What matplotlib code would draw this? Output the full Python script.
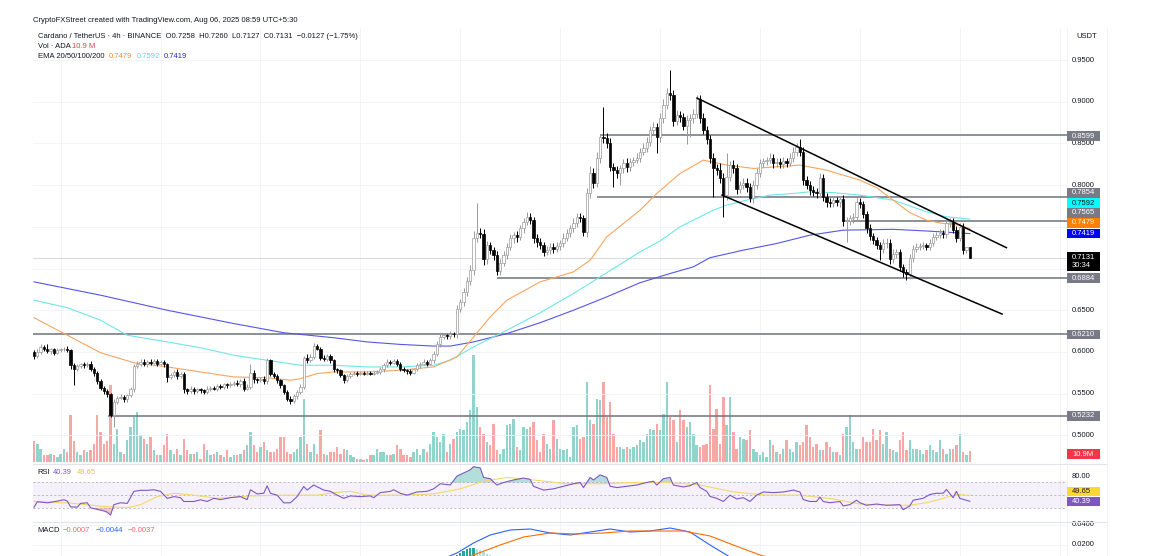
import numpy as np
import matplotlib.pyplot as plt
from matplotlib.lines import Line2D
from matplotlib.patches import Rectangle

plt.rcParams['font.family'] = ['Liberation Sans', 'DejaVu Sans']

# ---- data (ADA/USDT 4h) ----
open0 = 0.600
closes = [
    0.595, 0.600, 0.606, 0.604, 0.601, 0.603, 0.599, 0.602, 0.603, 0.604,
    0.602, 0.584, 0.580, 0.583, 0.585, 0.584, 0.586, 0.580, 0.575, 0.565,
    0.557, 0.553, 0.549, 0.524, 0.540, 0.545, 0.546, 0.543, 0.548, 0.555,
    0.583, 0.586, 0.588, 0.585, 0.588, 0.587, 0.589, 0.586, 0.588, 0.585,
    0.570, 0.572, 0.576, 0.571, 0.574, 0.555, 0.553, 0.556, 0.553, 0.555,
    0.554, 0.552, 0.556, 0.557, 0.556, 0.559, 0.558, 0.561, 0.560, 0.562,
    0.563, 0.561, 0.565, 0.556, 0.558, 0.575, 0.567, 0.566, 0.568, 0.565,
    0.590, 0.574, 0.571, 0.566, 0.560, 0.552, 0.544, 0.541, 0.547, 0.552,
    0.558, 0.593, 0.590, 0.594, 0.607, 0.604, 0.593, 0.592, 0.595, 0.590,
    0.579, 0.578, 0.572, 0.566, 0.571, 0.574, 0.575, 0.574, 0.575, 0.574,
    0.575, 0.574, 0.575, 0.576, 0.579, 0.584, 0.588, 0.587, 0.589, 0.586,
    0.580, 0.578, 0.577, 0.575, 0.579, 0.584, 0.586, 0.588, 0.586, 0.590,
    0.598, 0.610, 0.618, 0.620, 0.619, 0.622, 0.621, 0.652, 0.660, 0.672,
    0.685, 0.698, 0.737, 0.743, 0.741, 0.712, 0.728, 0.722, 0.716, 0.697,
    0.707, 0.716, 0.726, 0.736, 0.740, 0.738, 0.748, 0.756, 0.762, 0.758,
    0.736, 0.732, 0.728, 0.720, 0.722, 0.726, 0.724, 0.727, 0.730, 0.737,
    0.743, 0.748, 0.755, 0.762, 0.760, 0.744, 0.790, 0.815, 0.803, 0.832,
    0.858, 0.856, 0.850, 0.822, 0.818, 0.815, 0.820, 0.826, 0.822, 0.828,
    0.830, 0.833, 0.840, 0.845, 0.852, 0.866, 0.870, 0.858, 0.880, 0.896,
    0.910, 0.908, 0.877, 0.884, 0.882, 0.871, 0.878, 0.880, 0.885, 0.903,
    0.881, 0.866, 0.855, 0.833, 0.820, 0.818, 0.808, 0.788, 0.810, 0.824,
    0.820, 0.795, 0.800, 0.803, 0.798, 0.785, 0.800, 0.815, 0.826, 0.829,
    0.830, 0.833, 0.826, 0.828, 0.825, 0.829, 0.827, 0.833, 0.840, 0.846,
    0.840, 0.806, 0.800, 0.794, 0.792, 0.790, 0.808, 0.786, 0.780, 0.779,
    0.782, 0.780, 0.783, 0.757, 0.757, 0.760, 0.762, 0.780, 0.777, 0.765,
    0.748, 0.739, 0.734, 0.728, 0.724, 0.730, 0.731, 0.712, 0.718, 0.720,
    0.702, 0.696, 0.694, 0.713, 0.724, 0.726, 0.727, 0.728, 0.726, 0.731,
    0.738, 0.740, 0.742, 0.741, 0.754, 0.756, 0.746, 0.737, 0.750, 0.722,
    0.7258, 0.7131,
]
# wick lengths above / below the body, in thousandths
wick_up = [
    2, 3, 4, 2, 5, 2, 2, 3, 2, 2,  3, 2, 3, 2, 2, 3, 2, 3, 2, 2,
    2, 2, 3, 2, 3, 2, 3, 2, 2, 3,  3, 3, 4, 3, 2, 3, 2, 3, 2, 2,
    2, 3, 2, 3, 2, 2, 2, 3, 2, 2,  2, 2, 3, 2, 2, 2, 3, 2, 2, 2,
    2, 3, 3, 4, 3, 10, 3, 2, 2, 3,  3, 2, 2, 3, 2, 2, 2, 3, 2, 2,
    3, 2, 4, 3, 4, 3, 2, 3, 2, 2,  2, 2, 2, 2, 3, 2, 2, 2, 2, 2,
    2, 2, 2, 2, 3, 3, 3, 2, 3, 2,  2, 2, 2, 2, 2, 3, 2, 3, 2, 3,
    3, 3, 4, 3, 2, 3, 2, 4, 4, 5,  5, 6, 8, 36, 6, 6, 5, 4, 4, 5,
    4, 5, 4, 5, 4, 5, 4, 5, 6, 5,  4, 5, 4, 4, 5, 4, 4, 5, 4, 5,
    4, 4, 5, 4, 5, 4, 6, 8, 6, 8,  3, 36, 6, 6, 5, 5, 4, 5, 6, 5,
    4, 5, 4, 5, 6, 5, 6, 5, 6, 7,  6, 28, 6, 6, 5, 5, 6, 5, 6, 5,
    5, 6, 5, 5, 6, 5, 8, 6, 28, 5,  6, 5, 5, 6, 5, 5, 6, 5, 5, 4,
    4, 5, 4, 5, 4, 5, 4, 5, 6, 5,  9, 6, 5, 5, 5, 4, 6, 5, 4, 4,
    5, 4, 4, 5, 5, 4, 4, 6, 4, 4,  4, 5, 4, 4, 4, 5, 5, 4, 5, 4,
    4, 4, 4, 5, 4, 4, 3, 4, 3, 4,  4, 4, 5, 4, 5, 5, 4, 5, 4, 5,
    0.2, 0,
]
wick_lo = [
    3, 2, 2, 3, 2, 3, 3, 2, 2, 2,  2, 4, 20, 3, 2, 3, 2, 3, 4, 3,
    3, 4, 3, 2, 14, 3, 2, 3, 3, 2,  3, 2, 3, 2, 3, 3, 2, 3, 2, 3,
    6, 3, 2, 3, 2, 4, 3, 2, 3, 2,  3, 2, 2, 3, 2, 3, 2, 2, 3, 2,
    3, 2, 3, 3, 2, 3, 4, 3, 2, 3,  3, 3, 2, 3, 3, 2, 3, 3, 2, 3,
    3, 3, 3, 2, 3, 2, 3, 3, 3, 3,  3, 3, 2, 3, 2, 2, 2, 3, 2, 2,
    2, 2, 2, 2, 2, 3, 2, 3, 2, 3,  3, 2, 3, 3, 2, 2, 3, 2, 3, 2,
    3, 3, 4, 3, 4, 3, 3, 4, 4, 5,  5, 5, 6, 5, 5, 8, 6, 5, 6, 5,
    5, 4, 5, 4, 5, 6, 4, 5, 4, 5,  5, 6, 5, 5, 4, 5, 5, 4, 5, 4,
    4, 5, 4, 5, 4, 5, 6, 5, 6, 5,  6, 5, 6, 5, 20, 6, 15, 5, 6, 5,
    5, 4, 5, 4, 5, 5, 6, 20, 6, 5,  5, 6, 6, 5, 6, 5, 22, 20, 6, 5,
    6, 5, 6, 7, 34, 6, 6, 26, 6, 5,  5, 6, 5, 5, 6, 5, 6, 5, 5, 4,
    5, 4, 5, 4, 5, 4, 5, 4, 5, 5,  5, 6, 5, 6, 5, 5, 6, 5, 6, 5,
    5, 5, 6, 6, 25, 5, 6, 5, 5, 5,  5, 5, 5, 5, 14, 5, 5, 6, 5, 5,
    5, 6, 8, 7, 5, 4, 4, 4, 4, 4,  4, 4, 4, 4, 5, 4, 4, 5, 4, 5,
    3, 0.4,
]
volume_m = [
    21, 18, 13, 7, 7, 8, 7, 5, 8, 13,  10, 47, 21, 10, 7, 12, 10, 12, 18, 47,
    30, 18, 21, 77, 18, 33, 10, 8, 22, 35,  45, 50, 27, 23, 18, 25, 12, 7, 7, 17,
    28, 12, 8, 13, 7, 23, 12, 8, 8, 10,  3, 18, 12, 7, 8, 10, 7, 5, 12, 5,
    7, 7, 8, 12, 17, 30, 17, 10, 15, 20,  12, 10, 10, 13, 25, 25, 10, 8, 10, 13,
    25, 63, 18, 10, 18, 8, 32, 8, 7, 10,  10, 15, 8, 13, 12, 7, 5, 3, 3, 2,
    3, 7, 7, 13, 10, 10, 7, 7, 8, 17,  13, 7, 7, 5, 10, 13, 7, 13, 10, 18,
    30, 25, 20, 28, 10, 18, 23, 30, 33, 32,  40, 52, 107, 55, 35, 28, 20, 17, 38, 12,
    8, 13, 37, 38, 43, 15, 12, 35, 33, 35,  40, 22, 10, 28, 18, 13, 42, 23, 13, 12,
    13, 5, 35, 37, 23, 25, 80, 42, 38, 63,  62, 80, 45, 60, 28, 15, 15, 13, 15, 13,
    15, 17, 22, 20, 28, 33, 32, 38, 32, 48,  80, 45, 42, 20, 52, 42, 35, 40, 28, 17,
    15, 17, 18, 77, 33, 53, 18, 65, 37, 65,  30, 13, 25, 23, 22, 32, 13, 10, 7, 10,
    5, 22, 17, 10, 8, 13, 22, 13, 10, 20,  17, 20, 37, 25, 15, 18, 12, 12, 20, 15,
    10, 10, 7, 28, 35, 47, 20, 13, 13, 25,  20, 20, 33, 22, 32, 18, 30, 13, 12, 10,
    22, 30, 12, 22, 13, 13, 12, 8, 12, 17,  12, 10, 22, 13, 8, 13, 13, 17, 28, 10,
    7, 10.9,
]

# EMA lines, sampled at candle indices
ema20_idx = [0, 10, 20, 30, 40, 50, 60, 70, 77, 80, 85, 90, 100, 110, 120, 127, 132, 137,
             142, 152, 162, 167, 172, 177, 182, 187, 194, 201, 208, 216, 223, 230, 238,
             248, 253, 258, 263, 268, 273, 278, 281]
ema20 = [0.641, 0.620, 0.599, 0.587, 0.582, 0.576, 0.570, 0.569, 0.566, 0.568, 0.574,
         0.576, 0.576, 0.578, 0.582, 0.594, 0.618, 0.642, 0.662, 0.684, 0.696, 0.710,
         0.738, 0.754, 0.770, 0.790, 0.814, 0.830, 0.824, 0.820, 0.822, 0.824, 0.818,
         0.806, 0.797, 0.782, 0.767, 0.758, 0.754, 0.752, 0.7479]
ema50_idx = [0, 10, 20, 28, 40, 50, 60, 70, 80, 90, 100, 110, 120, 125, 132, 142, 152,
             162, 172, 182, 188, 194, 200, 204, 208, 214, 221, 228, 233, 240, 248, 258,
             268, 274, 281]
ema50 = [0.662, 0.653, 0.638, 0.620, 0.612, 0.605, 0.596, 0.590, 0.584, 0.584, 0.582,
         0.582, 0.584, 0.590, 0.606, 0.626, 0.647, 0.670, 0.695, 0.720, 0.733, 0.750,
         0.762, 0.770, 0.776, 0.782, 0.788, 0.790, 0.792, 0.791, 0.788, 0.782, 0.768,
         0.762, 0.7592]
ema200_idx = [0, 20, 40, 60, 75, 90, 100, 110, 120, 125, 132, 142, 152, 162, 172, 182,
              191, 198, 203, 213, 223, 233, 243, 258, 268, 281]
ema200 = [0.684, 0.668, 0.650, 0.634, 0.623, 0.617, 0.612, 0.609, 0.607, 0.607, 0.612,
          0.622, 0.635, 0.650, 0.666, 0.683, 0.694, 0.702, 0.713, 0.722, 0.730, 0.740,
          0.746, 0.747, 0.745, 0.7419]

# horizontal levels: price, first candle index
levels = [0.8599, 0.7854, 0.7565, 0.6884, 0.6210, 0.5232]
level_start = [170, 169, 242.6, 139, -0.3, 22.2]
# channel lines: (index, price) end points
chan_upper = ([199.1, 292.0], [0.9044, 0.7250])
chan_lower = ([206.6, 290.7], [0.7880, 0.6454])

# RSI and its moving average
rsi_idx = [0, 1, 4, 6, 7, 9, 10, 11, 13, 14, 16, 17, 19, 21, 22, 23, 24, 26, 28, 30,
           32, 34, 36, 38, 40, 42, 44, 45, 48, 50, 52, 54, 56, 59, 62, 64, 65, 67, 69,
           70, 71, 73, 75, 77, 79, 81, 82, 84, 87, 89, 91, 93, 95, 98, 101, 102, 104,
           107, 108, 110, 112, 115, 118, 120, 122, 125, 127, 129, 131, 132, 134, 135,
           137, 139, 141, 144, 147, 149, 150, 153, 156, 159, 162, 164, 165, 167, 168,
           170, 172, 173, 175, 178, 181, 184, 186, 187, 189, 191, 192, 195, 197, 199,
           200, 202, 203, 205, 207, 209, 211, 213, 215, 217, 219, 222, 225, 228, 230,
           231, 233, 235, 236, 237, 239, 242, 243, 245, 247, 248, 250, 253, 256, 260,
           261, 263, 264, 267, 269, 271, 273, 274, 276, 277, 278, 280, 281]
rsi = [31, 39.6, 37.9, 39.6, 40.6, 42.7, 40.6, 31.5, 31, 37, 37.9, 30, 27.5, 25, 23,
       18.5, 35, 38, 37, 56, 57.6, 57.6, 58.5, 56, 44.9, 47.7, 46, 40, 40, 42.7, 40, 45,
       43, 46, 47.7, 43, 58.5, 52, 53, 64.7, 53, 50, 37.9, 37.9, 47.7, 63.7, 58, 66,
       58, 56, 50, 45, 48.8, 47.7, 48.8, 46, 54, 56, 58.5, 53, 50, 55, 56, 60, 68, 66,
       80, 85, 90, 95, 93, 78, 76, 66, 70, 74, 77, 75, 64, 58, 60, 64, 68, 70, 62, 78,
       74, 82, 78, 64, 62, 64, 66, 70, 72, 66, 76, 78, 66, 63, 65, 70, 62, 56, 48, 45,
       40, 50, 44, 46, 40, 50, 55, 54, 55, 58, 55, 43, 40, 40, 47, 40, 38, 40, 33, 35,
       42, 38, 34, 36, 34, 35, 27, 33, 42, 45, 51, 53, 53, 59, 46, 56, 45, 42, 40.39]
rsi_ma_idx = [0, 10, 20, 28, 32, 37, 42, 48, 55, 65, 75, 85, 90, 95, 100, 110, 120, 128,
              135, 142, 150, 160, 170, 180, 190, 200, 210, 220, 230, 240, 248, 258, 263,
              268, 273, 277, 281]
rsi_ma = [40, 37.9, 32.6, 30, 35, 47.7, 53, 50, 45, 48.8, 50, 50, 54, 56, 50, 50, 52,
          60, 72, 78, 74, 68, 68, 70, 70, 66, 55, 50, 50, 44, 36, 34, 34, 38, 45, 51,
          49.65]

# MACD (only the upper part of the pane is in frame)
macd_idx = [110, 122, 127, 132, 137, 143, 149, 155, 161, 167, 173, 179, 185, 191, 197,
            203, 209, 215]
macd = [-0.002, 0.005, 0.012, 0.022, 0.030, 0.035, 0.036, 0.032, 0.030, 0.033, 0.036,
        0.033, 0.034, 0.037, 0.033, 0.020, 0.008, 0.000]
signal_idx = [112, 125, 132, 140, 147, 155, 163, 171, 179, 187, 195, 203, 210, 218, 226]
signal = [-0.002, 0.003, 0.010, 0.020, 0.028, 0.032, 0.031, 0.032, 0.034, 0.034, 0.034,
          0.029, 0.020, 0.010, 0.003]
hist_idx = list(range(124, 147))
hist = [0.004, 0.006, 0.008, 0.010, 0.012, 0.014, 0.016, 0.017, 0.017, 0.016, 0.015,
        0.013, 0.011, 0.010, 0.009, 0.008, 0.007, 0.006, 0.005, 0.004, 0.003, 0.002, 0.001]

# ---- layout helpers (pixel boxes on a 1149x556 canvas) ----
W, H = 1149, 556
FS = 5.5


def rect(x0, y0, x1, y1):
    return [x0 / W, 1 - y1 / H, (x1 - x0) / W, (y1 - y0) / H]


def fig_text(x, y, s, **kw):
    kw.setdefault('fontsize', FS)
    kw.setdefault('color', '#131722')
    fig.text(x / W, 1 - y / H, s, va='center', ha='left', **kw)


def to_px(pane, lims, v):
    # pixel row of value v in a pane given as (top, bottom) pixel rows
    top, bot = pane
    return top + (lims[1] - v) / (lims[1] - lims[0]) * (bot - top)


def tag(pane, lims, v, s, fc, tc, dy=0.0, h=9.5):
    # label box on the price scale; dy in pixels (up is positive)
    yc = to_px(pane, lims, v) - dy
    fig.add_artist(Rectangle((1067 / W, 1 - (yc + h / 2) / H), 33 / W, h / H,
                             transform=fig.transFigure, fc=fc, ec='none', zorder=8))
    fig.text(1072 / W, 1 - yc / H, s, va='center', ha='left', fontsize=FS, color=tc,
             zorder=9, linespacing=1.1)


def tick(ax, y, s):
    ax.text(1.0048, y, s, transform=ax.get_yaxis_transform(), ha='left', va='center',
            fontsize=FS, color='#131722', zorder=5, clip_on=False)


XMIN, XMAX = -0.3, 310.2
MAIN, RSI_P, MACD_P = (28, 464), (464, 522), (522, 556)
PRICE_LIM, VOL_LIM, RSI_LIM, MACD_LIM = (0.4656, 0.9884), (-2, 434), (7.6, 99.2), (0.009, 0.043)
GRID = '#f0f2f6'
grid_x = [8, 38, 68, 98, 128, 158, 188, 218, 248, 278, 308]

fig = plt.figure(figsize=(W / 100, H / 100), dpi=100)

c = np.array(closes)
o = np.concatenate([[open0], c[:-1]])
hi = np.maximum(o, c) + np.array(wick_up) / 1000
lo = np.minimum(o, c) - np.array(wick_lo) / 1000
idx = np.arange(len(c))
up = c >= o

# ---- main pane: volume behind, candles on top ----
ax_vol = fig.add_axes(rect(33, MAIN[0], 1067, MAIN[1]))
ax = fig.add_axes(rect(33, MAIN[0], 1067, MAIN[1]), sharex=ax_vol)
ax.patch.set_visible(False)
ax_vol.axis('off')
ax.axis('off')
ax.set_xlim(XMIN, XMAX)
ax.set_ylim(*PRICE_LIM)
ax_vol.set_ylim(*VOL_LIM)

for gx in grid_x:
    ax_vol.axvline(gx, color=GRID, lw=0.6, zorder=0)
for p in np.arange(0.50, 0.951, 0.05):
    ax.axhline(p, color=GRID, lw=0.6, zorder=0)
    if abs(p - 0.70) > 1e-6 and abs(p - 0.75) > 1e-6:   # these sit under label boxes
        tick(ax, p, f'{p:.4f}')

ax_vol.bar(idx, volume_m, width=0.72, color=np.where(up, '#92d3cc', '#f7a8a6'), lw=0)

ax.axhline(closes[-1], color='#d3d4d8', lw=0.6, zorder=1)
ax.hlines(levels, level_start, XMAX, color='#6f727b', lw=1.1, zorder=2)

ax.plot(ema200_idx, ema200, color='#5656e6', lw=0.8, zorder=2)
ax.plot(ema50_idx, ema50, color='#6ee6ea', lw=0.8, zorder=2)
ax.plot(ema20_idx, ema20, color='#f7a560', lw=0.8, zorder=2)

ax.vlines(idx, lo, hi, colors=np.where(up, '#9a9a9a', 'black'), lw=0.7, zorder=3)
ax.bar(idx, np.maximum(np.abs(c - o), 0.0007), bottom=np.minimum(o, c), width=0.7,
       color=np.where(up, 'white', 'black'), edgecolor=np.where(up, '#9a9a9a', 'black'),
       lw=0.5, zorder=4)

ax.plot(*chan_upper, color='black', lw=1.1, zorder=5)
ax.plot(*chan_lower, color='black', lw=1.1, zorder=5)

tag(MAIN, PRICE_LIM, 0.8599, '0.8599', '#787b86', 'white', -1)
tag(MAIN, PRICE_LIM, 0.7854, '0.7854', '#787b86', 'white', 4.3)
tag(MAIN, PRICE_LIM, 0.7592, '0.7592', '#00ffff', '#131722', 16)
tag(MAIN, PRICE_LIM, 0.7565, '0.7565', '#787b86', 'white', 8.4)
tag(MAIN, PRICE_LIM, 0.7479, '0.7479', '#ff7f00', 'white', 5.6)
tag(MAIN, PRICE_LIM, 0.7419, '0.7419', '#0000ff', 'white', 0)
tag(MAIN, PRICE_LIM, 0.7131, '0.7131\n30:34', '#000000', 'white', -4, h=19)
tag(MAIN, PRICE_LIM, 0.6884, '0.6884', '#787b86', 'white', 0)
tag(MAIN, PRICE_LIM, 0.6210, '0.6210', '#787b86', 'white', 0)
tag(MAIN, PRICE_LIM, 0.5232, '0.5232', '#787b86', 'white', 0)
tag(MAIN, VOL_LIM, volume_m[-1], '10.9M', '#f23645', 'white', -3)

# ---- RSI pane ----
ax_rsi = fig.add_axes(rect(33, RSI_P[0], 1067, RSI_P[1]))
ax_rsi.axis('off')
ax_rsi.set_xlim(XMIN, XMAX)
ax_rsi.set_ylim(*RSI_LIM)
for gx in grid_x:
    ax_rsi.axvline(gx, color=GRID, lw=0.6, zorder=0)
ax_rsi.axhspan(30, 70, color='#7e57c2', alpha=0.08, lw=0)
for lvl in (70, 50, 30):
    ax_rsi.axhline(lvl, color='#a3a6af', lw=0.5, ls=(0, (3, 3)))
r = np.array(rsi)
ax_rsi.fill_between(rsi_idx, r, 70, where=r > 70, interpolate=True, color='#26a69a',
                    alpha=0.35, lw=0)
ax_rsi.fill_between(rsi_idx, r, 30, where=r < 30, interpolate=True, color='#ef5350',
                    alpha=0.35, lw=0)
ax_rsi.plot(rsi_ma_idx, rsi_ma, color='#f5d86a', lw=0.8)
ax_rsi.plot(rsi_idx, rsi, color='#7e57c2', lw=0.8)
tick(ax_rsi, 80, '80.00')
tag(RSI_P, RSI_LIM, rsi_ma[-1], '49.65', '#fdd835', '#131722', 3.7, h=9)
tag(RSI_P, RSI_LIM, rsi[-1], '40.39', '#7e57c2', 'white', -0.5, h=9)

# ---- MACD pane ----
ax_m = fig.add_axes(rect(33, MACD_P[0], 1067, MACD_P[1]))
ax_m.axis('off')
ax_m.set_xlim(XMIN, XMAX)
ax_m.set_ylim(*MACD_LIM)
for gx in grid_x:
    ax_m.axvline(gx, color=GRID, lw=0.6, zorder=0)
for p in (0.02, 0.04):
    ax_m.axhline(p, color=GRID, lw=0.6, zorder=0)
    tick(ax_m, p, f'{p:.4f}')
hv = np.array(hist)
grow = np.concatenate([[True], hv[1:] >= hv[:-1]])
ax_m.bar(hist_idx, hv, width=0.7, color=np.where(grow, '#26a69a', '#b2dfdb'), lw=0)
ax_m.plot(macd_idx, macd, color='#2962ff', lw=0.8)
ax_m.plot(signal_idx, signal, color='#ff6d00', lw=0.8)

# ---- frame lines ----
for y in (464, 522):
    fig.add_artist(Line2D([33 / W, 1107 / W], [1 - y / H] * 2, color='#e0e3eb', lw=0.8))
for x in (1067, 1107):
    fig.add_artist(Line2D([x / W] * 2, [0, 1 - 28 / H], color='#eef0f4', lw=0.6))

# ---- texts ----
fig_text(33, 20.5, 'CryptoFXStreet created with TradingView.com, Aug 06, 2025 08:59 UTC+5:30')
fig_text(38, 36.5, 'Cardano / TetherUS · 4h · BINANCE  O0.7258  H0.7260  L0.7127  '
                   'C0.7131  \u22120.0127 (\u22121.75%)')
fig_text(38, 47, 'Vol · ADA')
fig_text(72, 47, '10.9 M', color='#f23645')
fig_text(38, 57, 'EMA 20/50/100/200')
fig_text(109, 57, '0.7479', color='#ff8c1a')
fig_text(137, 57, '0.7592', color='#52dfe8')
fig_text(164, 57, '0.7419', color='#2424e8')
fig_text(1076, 37, 'USDT')
fig_text(37, 473, 'RSI')
fig_text(53, 473, '40.39', color='#7e57c2')
fig_text(77, 473, '49.65', color='#e8c53a')
fig_text(37, 531, 'MACD')
fig_text(63, 531, '\u22120.0007', color='#f0676b')
fig_text(96, 531, '\u22120.0044', color='#2962ff')
fig_text(128, 531, '\u22120.0037', color='#f0676b')

fig.savefig('out.png', dpi=100)
plt.close(fig)
